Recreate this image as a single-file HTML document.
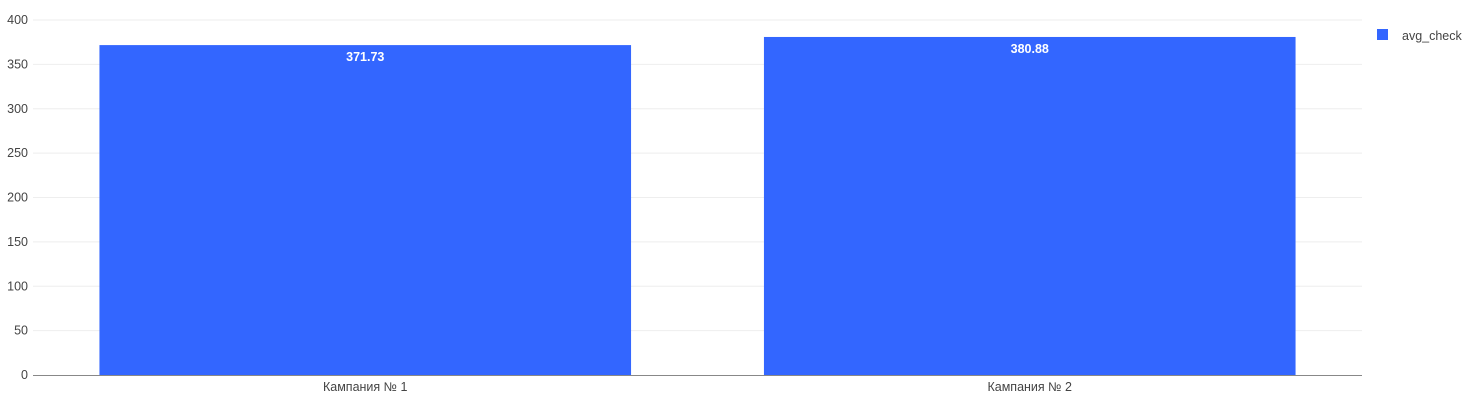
<!DOCTYPE html>
<html><head><meta charset="utf-8"><style>
body{margin:0;background:#fff;}
svg{display:block;font-family:"Liberation Sans","DejaVu Sans",sans-serif;}
</style></head><body>
<svg id="chart" width="1477" height="400"></svg>
<script>
const categories = ["Кампания № 1", "Кампания № 2"];
const values = [371.73, 380.88];
const valueLabels = ["371.73", "380.88"];
const yTicks = [0, 50, 100, 150, 200, 250, 300, 350, 400];
const seriesName = "avg_check";

const NS = "http://www.w3.org/2000/svg";
const svg = document.getElementById("chart");
const L = 33, R = 1362, T = 20, B = 375, yMax = 400;
const y = v => B - (v / yMax) * (B - T);
const band = (R - L) / categories.length;
const x = i => L + band * i + band / 2;
function mk(tag, attrs, parent) {
  const e = document.createElementNS(NS, tag);
  for (const k in attrs) e.setAttribute(k, attrs[k]);
  (parent || svg).appendChild(e);
  return e;
}
const grid = mk("g", {});


const yAxis = mk("g", {});


yTicks.forEach(t => {
  if (t > 0) {
    const l = mk("line", {x1: L, x2: R, y1: y(t), y2: y(t), stroke: "#eeeeee", "stroke-width": 1}, grid);
    
    
  }
  const tx = mk("text", {x: 28, y: y(t) + 4, "text-anchor": "end", "font-size": 12.5, fill: "#444"}, yAxis);
  tx.textContent = t;
  
  
});
const bars = mk("g", {});


const bw = band * 0.8;
values.forEach((v, i) => {
  const r = mk("rect", {x: x(i) - bw / 2, y: y(v), width: bw, height: B - y(v), fill: "#3366ff"}, bars);
  
  
  const t = mk("text", {x: x(i), y: y(v) + 16, "text-anchor": "middle", "font-size": 12.5, "font-weight": "bold", fill: "#fff"}, bars);
  t.textContent = valueLabels[i];
  
  
  const c = mk("text", {x: x(i), y: 391, "text-anchor": "middle", "font-size": 12.5, fill: "#444"});
  c.textContent = categories[i];
  
  
});
const ax = mk("line", {x1: L, x2: R, y1: B + 0.5, y2: B + 0.5, stroke: "#888", "stroke-width": 1});


const lg = mk("g", {});


mk("rect", {x: 1377, y: 29, width: 11, height: 11, fill: "#3366ff"}, lg);
const lt = mk("text", {x: 1402, y: 40, "font-size": 12.5, fill: "#444"}, lg);
lt.textContent = seriesName;


</script>
</body></html>
